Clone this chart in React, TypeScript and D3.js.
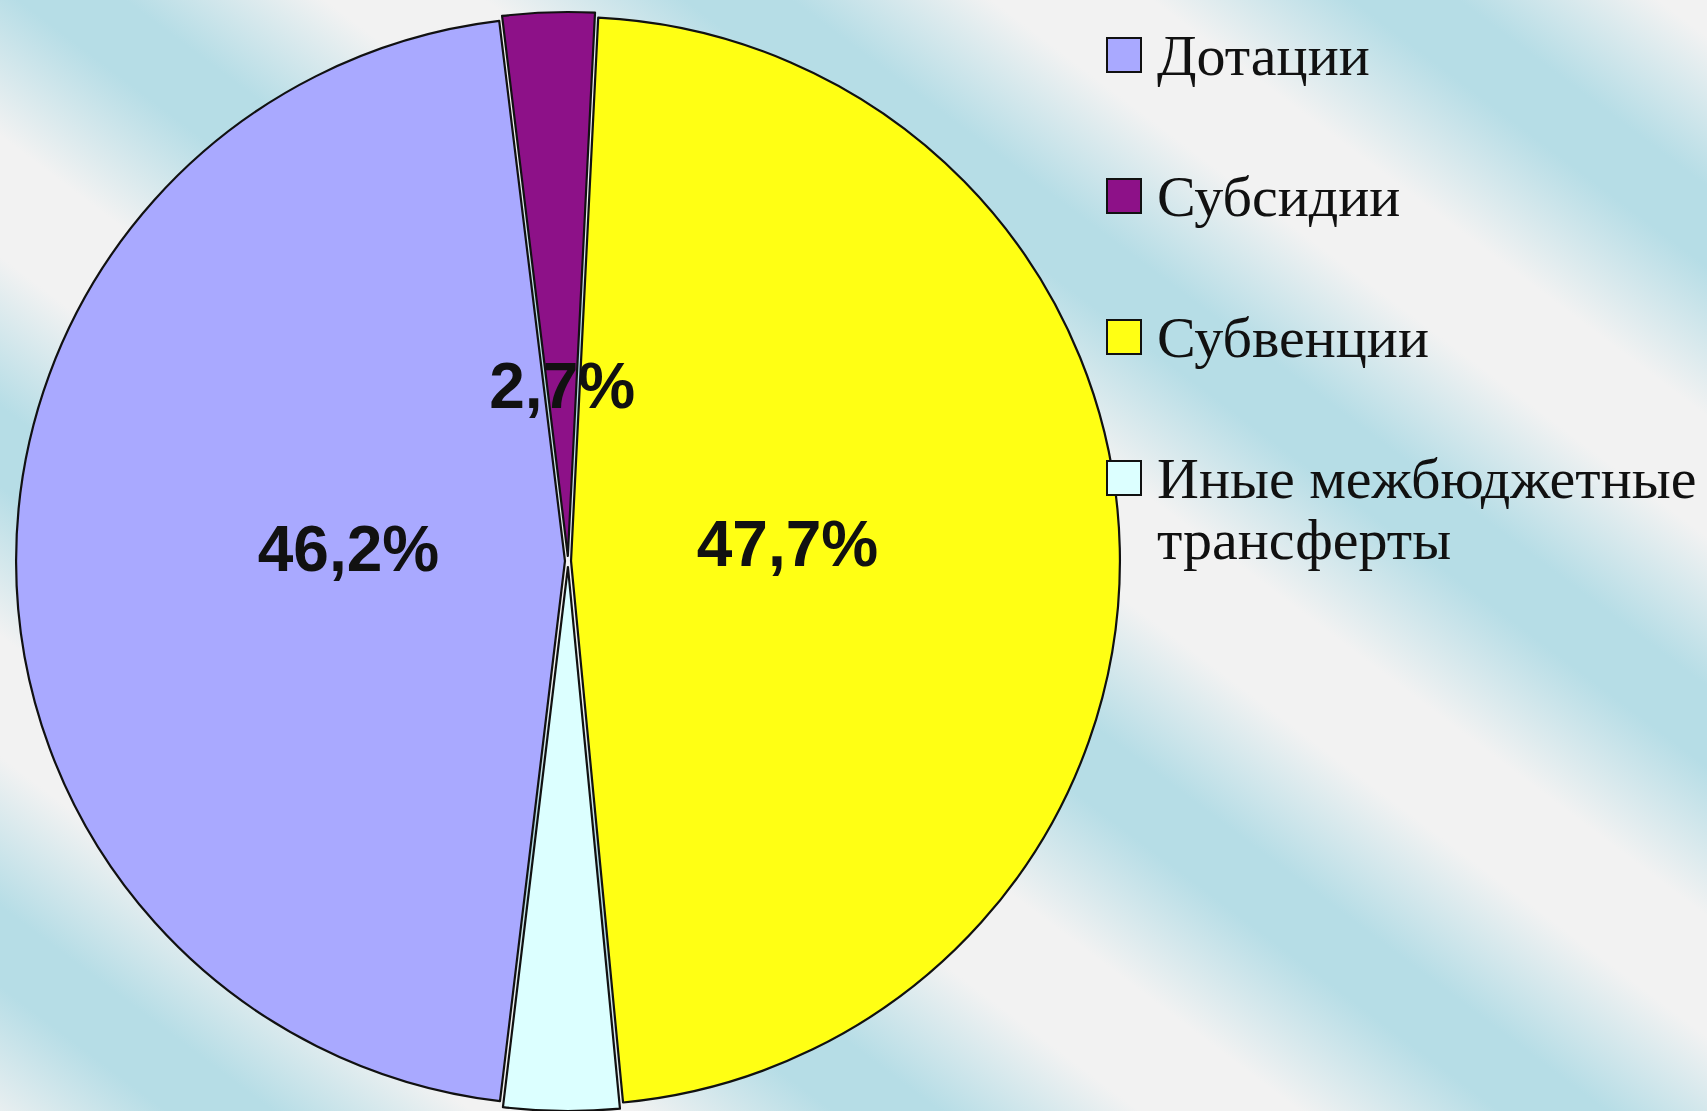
import React, { useEffect, useRef } from "react";
import * as d3 from "d3";

const categories = ["Дотации", "Субсидии", "Субвенции", "Иные межбюджетные трансферты"];
const values = [46.2, 2.7, 47.7, 3.4];
const valueLabels = ["46,2%", "2,7%", "47,7%", ""];

const colors = ["#a9a9ff", "#8d1188", "#ffff14", "#dcffff"];
const explode = [3, 5, 3, 6];

const PieChart = () => {
  const svgRef = useRef<SVGSVGElement>(null);

  useEffect(() => {
    const svg = d3.select(svgRef.current);
    svg.selectAll("*").remove(); // clear previous render

    const width = 1707;
    const height = 1111;
    const cx = 568;
    const cy = 561;
    const R = 544;
    const sx = 1.009; // pie is a touch wider than tall
    const start = (186.8 * Math.PI) / 180;

    svg.attr("width", width).attr("height", height).attr("viewBox", [0, 0, width, height]);

    // striped background
    const grad = svg
      .append("defs")
      .append("linearGradient")
      .attr("id", "bg")
      .attr("gradientUnits", "userSpaceOnUse")
      .attr("spreadMethod", "repeat")
      .attr("x1", 0)
      .attr("y1", 196)
      .attr("x2", -240)
      .attr("y2", 516);
    [
      [0, "#f2f2f2"],
      [0.12, "#f2f2f2"],
      [0.42, "#b6dde6"],
      [0.58, "#b6dde6"],
      [0.88, "#f2f2f2"],
      [1, "#f2f2f2"],
    ].forEach(([o, c]) => grad.append("stop").attr("offset", o).attr("stop-color", c));

    svg.append("rect").attr("width", width).attr("height", height).attr("fill", "url(#bg)");

    const pie = d3
      .pie<number>()
      .sort(null)
      .startAngle(start)
      .endAngle(start + 2 * Math.PI);
    const arcs = pie(values);

    const arc = d3.arc<d3.PieArcDatum<number>>().innerRadius(0).outerRadius(R);

    const g = svg.append("g").attr("transform", `translate(${cx},${cy}) scale(${sx},1)`);

    g.selectAll("path")
      .data(arcs)
      .join("path")
      .attr("transform", (d, i) => {
        const m = (d.startAngle + d.endAngle) / 2;
        return `translate(${Math.sin(m) * explode[i]},${-Math.cos(m) * explode[i]})`;
      })
      .attr("d", arc)
      .attr("fill", (d, i) => colors[i])
      .attr("stroke", "#111")
      .attr("stroke-width", 2.2)
      .attr("stroke-linejoin", "round")
      .attr("vector-effect", "non-scaling-stroke");

    // data labels
    arcs.forEach((d, i) => {
      if (!valueLabels[i]) return;
      const r = values[i] < 10 ? 0.3 * R : 0.4 * R;
      const [x, y] = d3.arc<d3.PieArcDatum<number>>().innerRadius(r).outerRadius(r).centroid(d);
      svg
        .append("text")
        .attr("x", cx + x * sx)
        .attr("y", cy + y - 13)
        .attr("dy", "0.36em")
        .attr("text-anchor", "middle")
        .attr("font-family", "'Liberation Sans', Arial, sans-serif")
        .attr("font-weight", "bold")
        .attr("font-size", 64)
        .attr("fill", "#111")
        .text(valueLabels[i]);
    });

    // legend
    const legend = svg.append("g").attr("transform", "translate(1107,38)");
    categories.forEach((name, i) => {
      const row = legend.append("g").attr("transform", `translate(0,${i * 141})`);
      row
        .append("rect")
        .attr("width", 34)
        .attr("height", 34)
        .attr("fill", colors[i])
        .attr("stroke", "#111")
        .attr("stroke-width", 2);
      const lines =
        name.length > 20 ? [name.slice(0, name.lastIndexOf(" ")), name.slice(name.lastIndexOf(" ") + 1)] : [name];
      const t = row
        .append("text")
        .attr("font-family", "'Liberation Serif', 'Times New Roman', serif")
        .attr("font-size", 58)
        .attr("fill", "#111");
      lines.forEach((ln, j) => {
        t.append("tspan").attr("x", 50).attr("y", 37 + j * 61).text(ln);
      });
    });
  }, []);

  return <svg ref={svgRef} style={{ position: "absolute", left: 0, top: 0 }}></svg>;
};

export default function App() {
  return <PieChart />;
}
